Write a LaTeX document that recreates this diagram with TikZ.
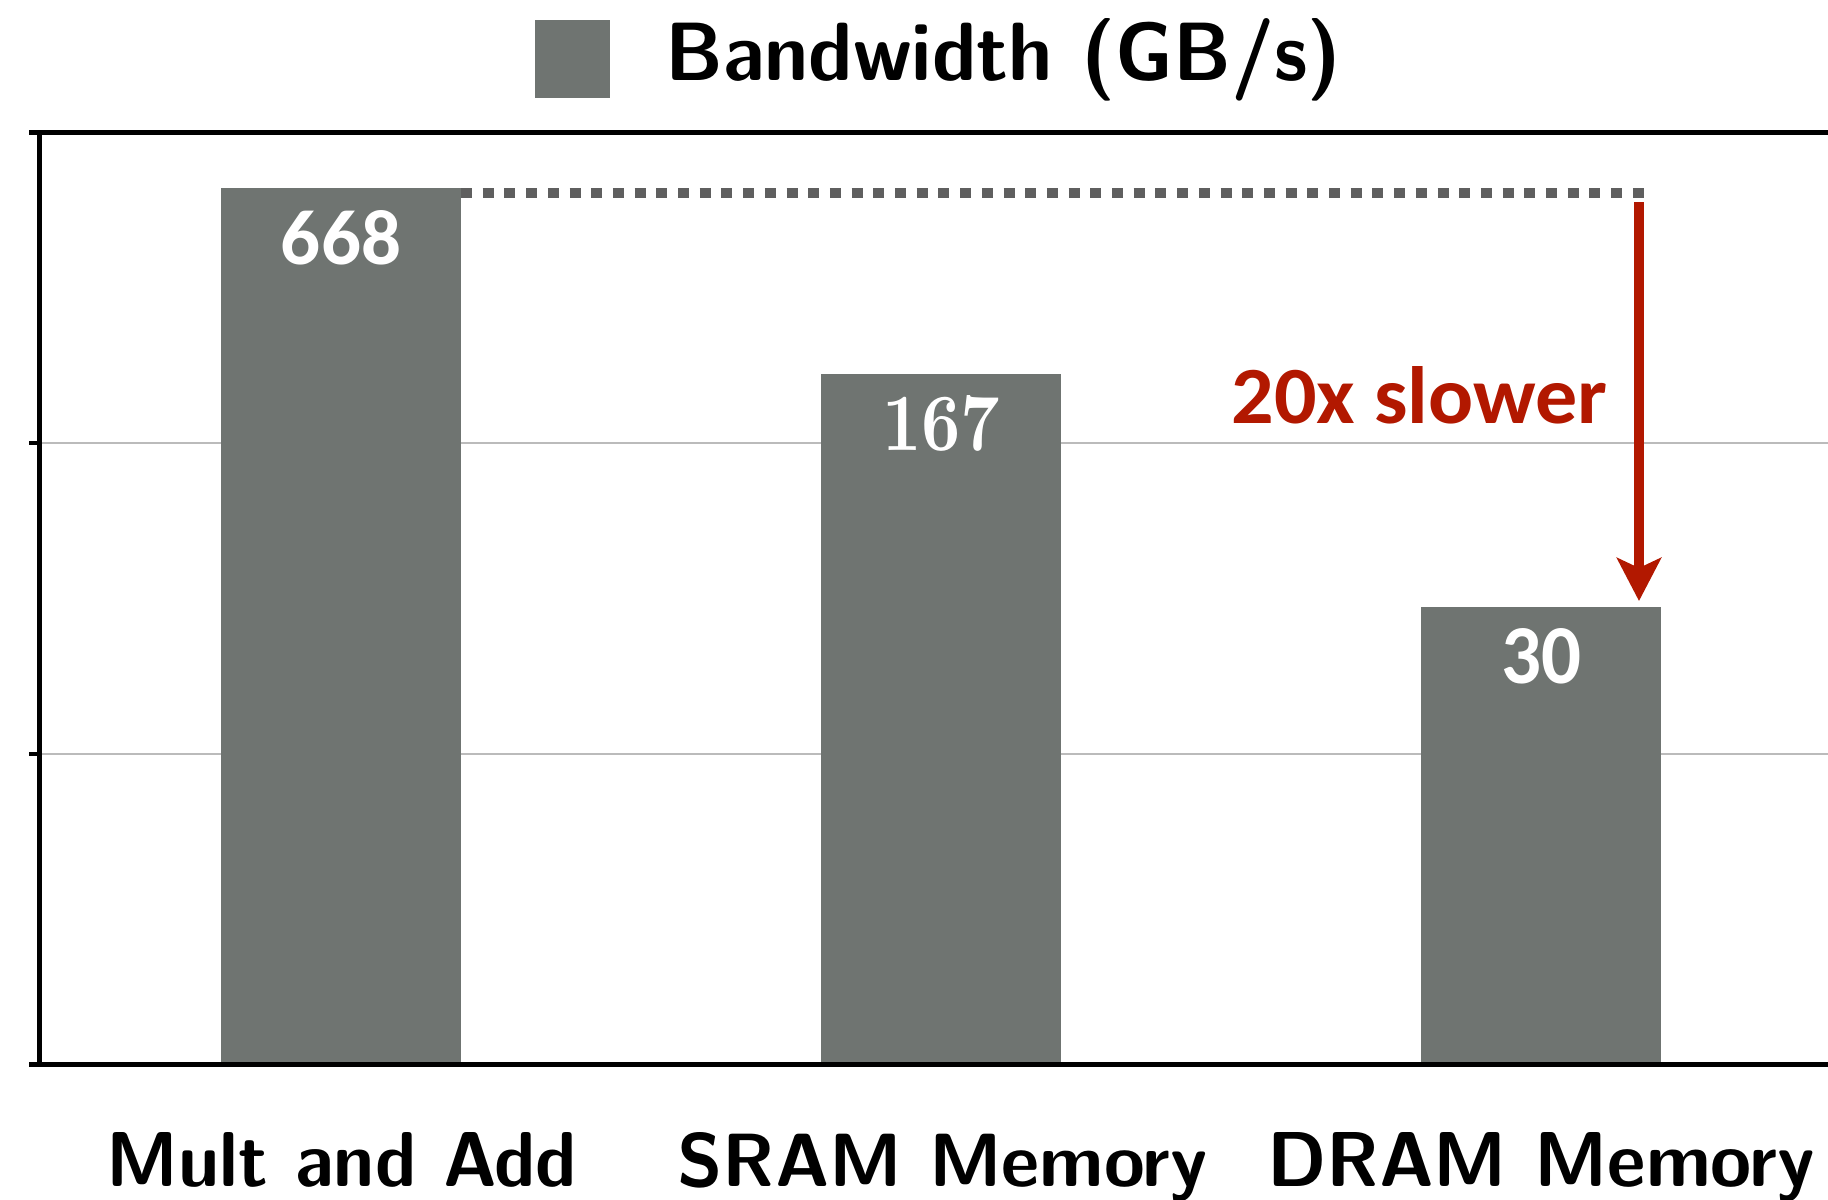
\documentclass[tikz,border=0pt]{standalone}
\usepackage{fontspec}
\newfontfamily\carlito{Carlito}
\usetikzlibrary{arrows.meta}
\definecolor{barcol}{RGB}{111,116,113}
\definecolor{dotcol}{RGB}{95,95,95}
\definecolor{redcol}{RGB}{178,24,0}
\definecolor{gridcol}{RGB}{187,187,187}
\begin{document}
\begin{tikzpicture}[x=0.5pt,y=-0.5pt,
  barfill/.style={fill=barcol},
  axisline/.style={line width=2.5pt,black},
  tickline/.style={line width=2pt,black},
  gridline/.style={line width=1.3pt,gridcol},
  lbl/.style={inner sep=0pt, anchor=base}]
\fill[white] (0,0) rectangle (1828,1200);
\useasboundingbox (0,0) rectangle (1828,1200);
% grid
\draw[gridline] (42,443) -- (1828,443);
\draw[gridline] (42,754) -- (1828,754);
% bars
\fill[barfill] (221,188) rectangle (461,1064);
\fill[barfill] (821,374) rectangle (1061,1064);
\fill[barfill] (1421,607) rectangle (1661,1064);
\coordinate (bar1ne) at (461,193);
\coordinate (dotend) at (1644,193);
\coordinate (arrstart) at (1639,202);
\coordinate (bar3top) at (1639,601);
% axes
\draw[axisline] (29,132) -- (1828,132);
\draw[axisline] (29,1064) -- (1828,1064);
\draw[axisline] (39,132) -- (39,1064);
\draw[tickline] (29,443) -- (39,443);
\draw[tickline] (29,754) -- (39,754);
% dotted reference line
\draw[dotcol, line width=5pt, dash pattern=on 5.5pt off 5.35pt] (bar1ne) -- (dotend);
% red arrow
\draw[redcol, line width=5pt, -{Stealth[length=21.5pt,width=22pt,inset=5pt]}] (arrstart) -- (bar3top);
% legend
\node[fill=barcol, minimum width=37.5pt, minimum height=39pt, inner sep=0pt] (legsq) at (572.5,59) {};
\node[lbl, anchor=base west] (title) at (665,80) {\resizebox{338pt}{31pt}{\sffamily\bfseries Bandwidth (GB/s)}};
% values
\node[lbl, text=white] (v1) at (341,264) {\resizebox{60pt}{27pt}{\carlito\bfseries 668}};
\node[lbl, text=white] (v2) at (941,450) {\resizebox{59pt}{27.5pt}{\rmfamily\bfseries 167}};
\node[lbl, text=white] (v3) at (1541.5,683) {\resizebox{40pt}{27.5pt}{\carlito\bfseries 30}};
\node[lbl, text=redcol, anchor=base west] (slow) at (1231,423) {\resizebox{188pt}{28.5pt}{\carlito\bfseries 20x slower}};
% x labels
\node[lbl] (x1) at (342,1186) {\resizebox{235pt}{27pt}{\sffamily\bfseries Mult and Add}};
\node[lbl] (x2) at (942.5,1186) {\resizebox{265pt}{27pt}{\sffamily\bfseries SRAM Memory}};
\node[lbl] (x3) at (1541,1186) {\resizebox{274pt}{27pt}{\sffamily\bfseries DRAM Memory}};
\end{tikzpicture}
\end{document}
